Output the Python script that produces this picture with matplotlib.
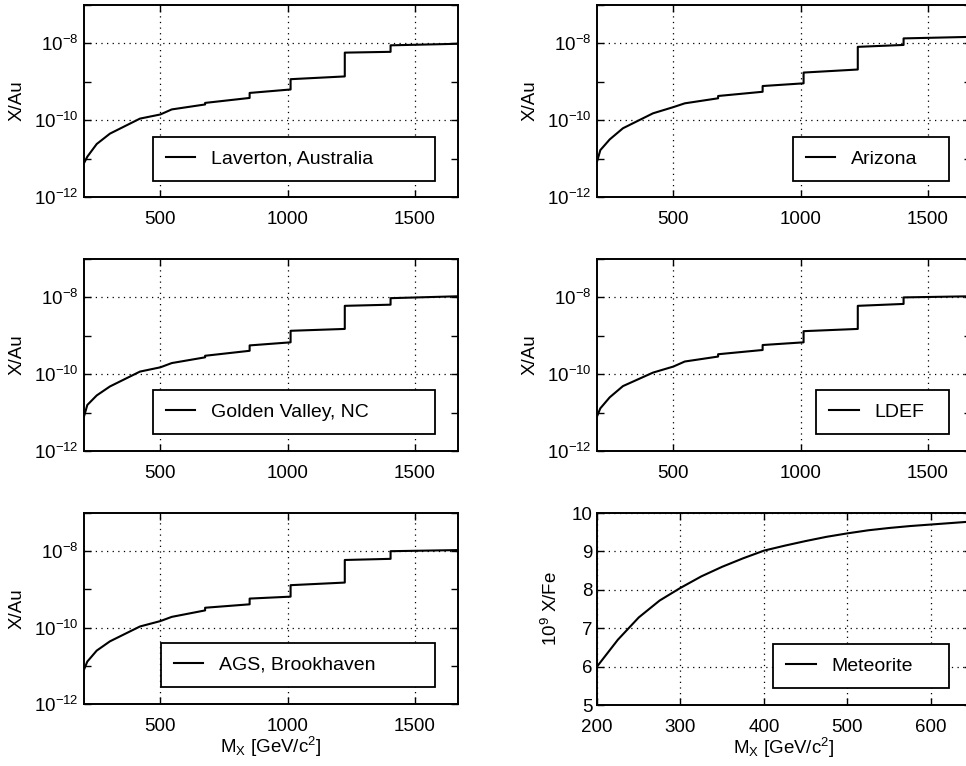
import matplotlib
matplotlib.use("Agg")
import matplotlib.pyplot as plt
from matplotlib.ticker import FixedLocator, NullFormatter, FixedFormatter

plt.rcParams['font.family'] = ['Liberation Sans', 'DejaVu Sans']
plt.rcParams['mathtext.fontset'] = 'custom'
plt.rcParams['mathtext.rm'] = 'Liberation Sans'
plt.rcParams['mathtext.it'] = 'Liberation Sans'
plt.rcParams['mathtext.bf'] = 'Liberation Sans'

# ---- data ----
mx_steps = [200, 213, 250, 302, 420, 500, 545, 676, 676, 851, 851, 1012, 1012,
            1225, 1225, 1405, 1405, 1670]

laverton = [7.6e-12, 1.12e-11, 2.4e-11, 4.47e-11, 1.10e-10, 1.41e-10, 1.91e-10,
            2.57e-10, 2.82e-10, 3.80e-10, 5.13e-10, 6.31e-10, 1.17e-9, 1.38e-9,
            5.75e-9, 6.03e-9, 8.91e-9, 9.77e-9]
arizona = [8.3e-12, 1.66e-11, 3.16e-11, 6.17e-11, 1.51e-10, 2.19e-10, 2.75e-10,
           3.72e-10, 4.27e-10, 5.50e-10, 7.76e-10, 9.12e-10, 1.74e-9, 2.09e-9,
           8.13e-9, 9.12e-9, 1.35e-8, 1.48e-8]
golden_valley = [7.9e-12, 1.58e-11, 2.8e-11, 4.8e-11, 1.17e-10, 1.51e-10, 1.95e-10,
                 2.75e-10, 3.02e-10, 4.07e-10, 5.62e-10, 6.76e-10, 1.35e-9, 1.51e-9,
                 6.03e-9, 6.46e-9, 9.55e-9, 1.07e-8]
ldef = [7.9e-12, 1.29e-11, 2.5e-11, 4.9e-11, 1.10e-10, 1.58e-10, 2.14e-10,
        2.88e-10, 3.31e-10, 4.27e-10, 5.75e-10, 6.76e-10, 1.32e-9, 1.51e-9,
        6.03e-9, 6.76e-9, 1.0e-8, 1.07e-8]
ags = [7.9e-12, 1.29e-11, 2.5e-11, 4.37e-11, 1.07e-10, 1.48e-10, 1.91e-10,
       2.82e-10, 3.31e-10, 4.07e-10, 5.75e-10, 6.46e-10, 1.29e-9, 1.51e-9,
       5.89e-9, 6.31e-9, 1.0e-8, 1.07e-8]

mx_meteorite = [200, 225, 250, 275, 300, 325, 350, 375, 400, 425, 450, 475, 500,
                525, 550, 575, 600, 625, 650]
meteorite = [6.0, 6.7, 7.28, 7.72, 8.05, 8.35, 8.6, 8.82, 9.02, 9.15, 9.27, 9.38,
             9.47, 9.55, 9.61, 9.66, 9.70, 9.74, 9.78]

log_yticks = [1e-12, 1e-10, 1e-8]
log_ytick_labels = [r'$10^{-12}$', r'$10^{-10}$', r'$10^{-8}$']
log_minor = [1e-11, 1e-9, 1e-7]
log_xticks = [500, 1000, 1500]
met_xticks = [200, 300, 400, 500, 600]
met_yticks = [5, 6, 7, 8, 9, 10]

W, H = 966, 766
fig = plt.figure(figsize=(W / 100, H / 100), dpi=100)
TFS = 13.5


def px_axes(x0, y0, x1, y1):
    return fig.add_axes([x0 / W, 1 - y1 / H, (x1 - x0) / W, (y1 - y0) / H])


def style(ax, fs=TFS):
    for s in ax.spines.values():
        s.set_linewidth(1.4)
        s.set_color('black')
    ax.tick_params(which='both', direction='in', top=True, right=True,
                   labelsize=fs, width=1.0, color='black')
    ax.tick_params(which='major', length=5)
    ax.tick_params(which='minor', length=5)
    ax.grid(True, which='major', color='black', linestyle=(0, (1, 3.5)),
            linewidth=0.9)


def leg(ax, label, x0, y0, w):
    lg = ax.legend([ax.lines[0]], [label], loc='lower left',
                   bbox_to_anchor=(x0, y0, w, 0.2), mode='expand', borderaxespad=0,
                   fancybox=False, edgecolor='black', framealpha=1, fontsize=14,
                   handlelength=1.5, handletextpad=0.8, borderpad=0.68)
    lg.get_frame().set_linewidth(1.3)


def log_panel(ax, x, y, label, lx, ly, lw, xlabel=False):
    ax.plot(x, y, color='black', linewidth=1.5)
    ax.set_yscale('log')
    ax.set_xlim(200, 1670)
    ax.set_ylim(1e-12, 1e-7)
    ax.yaxis.set_major_locator(FixedLocator(log_yticks))
    ax.yaxis.set_major_formatter(FixedFormatter(log_ytick_labels))
    ax.yaxis.set_minor_locator(FixedLocator(log_minor))
    ax.yaxis.set_minor_formatter(NullFormatter())
    ax.set_xticks(log_xticks)
    style(ax)
    ax.tick_params(axis='x', pad=10)
    ax.tick_params(axis='y', pad=4)
    ax.set_ylabel('X/Au', fontsize=13.5, labelpad=6)
    if xlabel:
        ax.set_xlabel(r'M$_\mathrm{X}$ [GeV/c$^2$]', fontsize=13.5, labelpad=0)
    leg(ax, label, lx, ly, lw)


LX0, LX1 = 84, 458
RX0, RX1 = 597, 971
rows = [(5, 197), (259, 451), (513, 704)]

ax1 = px_axes(LX0, rows[0][0], LX1, rows[0][1])
log_panel(ax1, mx_steps, laverton, 'Laverton, Australia', 0.1845, 0.0833, 0.754)
ax2 = px_axes(RX0, rows[0][0], RX1, rows[0][1])
log_panel(ax2, mx_steps, arizona, 'Arizona', 0.524, 0.0833, 0.417)
ax3 = px_axes(LX0, rows[1][0], LX1, rows[1][1])
log_panel(ax3, mx_steps, golden_valley, 'Golden Valley, NC', 0.1845, 0.0885, 0.754)
ax4 = px_axes(RX0, rows[1][0], RX1, rows[1][1])
log_panel(ax4, mx_steps, ldef, 'LDEF', 0.586, 0.0885, 0.356)
ax5 = px_axes(LX0, rows[2][0], LX1, rows[2][1])
log_panel(ax5, mx_steps, ags, 'AGS, Brookhaven', 0.206, 0.089, 0.733, xlabel=True)

ax6 = px_axes(RX0, 513, RX1, 705)
ax6.plot(mx_meteorite, meteorite, color='black', linewidth=1.5)
ax6.set_xlim(200, 648)
ax6.set_ylim(5, 10)
ax6.set_xticks(met_xticks)
ax6.set_yticks(met_yticks)
style(ax6)
ax6.tick_params(axis='x', pad=10)
ax6.tick_params(axis='y', pad=3)
ax6.set_ylabel(r'10$^9$ X/Fe', fontsize=13.5, labelpad=8)
ax6.set_xlabel(r'M$_\mathrm{X}$ [GeV/c$^2$]', fontsize=13.5, labelpad=0)
leg(ax6, 'Meteorite', 0.471, 0.0885, 0.4706)

fig.savefig('out.png', dpi=100)
